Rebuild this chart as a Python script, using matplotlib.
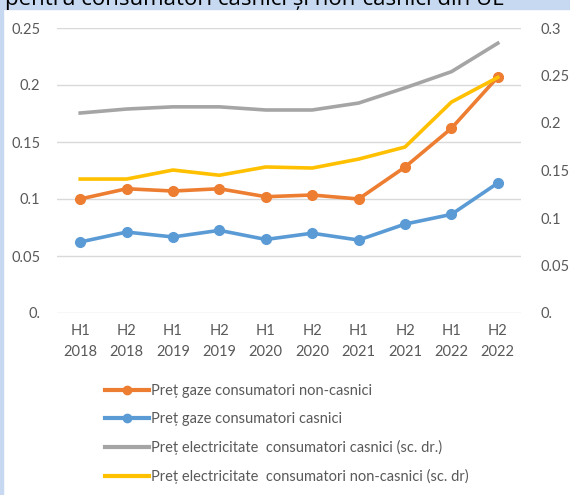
import matplotlib.pyplot as plt
from matplotlib.patches import Rectangle
from matplotlib.ticker import FuncFormatter

# data
periods = ["H1\n2018", "H2\n2018", "H1\n2019", "H2\n2019", "H1\n2020",
           "H2\n2020", "H1\n2021", "H2\n2021", "H1\n2022", "H2\n2022"]
gaz_non_casnici = [0.100, 0.109, 0.107, 0.109, 0.102, 0.1035, 0.100, 0.128, 0.162, 0.207]
gaz_casnici = [0.0623, 0.071, 0.0667, 0.0725, 0.0645, 0.070, 0.064, 0.078, 0.0865, 0.114]
el_casnici = [0.2105, 0.2147, 0.217, 0.217, 0.2137, 0.2137, 0.221, 0.237, 0.254, 0.284]
el_non_casnici = [0.141, 0.141, 0.1505, 0.145, 0.1537, 0.1526, 0.162, 0.1747, 0.222, 0.248]

labels = ["Preț gaze consumatori non-casnici",
          "Preț gaze consumatori casnici",
          "Preț electricitate  consumatori casnici (sc. dr.)",
          "Preț electricitate  consumatori non-casnici (sc. dr)"]

ORANGE = "#ed7d31"
BLUE = "#5b9bd5"
GREY = "#a5a5a5"
YELLOW = "#ffc000"
TXT = "#595959"

plt.rcParams['font.family'] = ['Lato', 'DejaVu Sans']

W, H = 570, 495
fig = plt.figure(figsize=(W / 100, H / 100), dpi=100)

# light blue frame of the slide behind the chart
fig.patches.append(Rectangle((0, 1 - 9 / H), 1, 9 / H, transform=fig.transFigure,
                             color="#c6d9f0", zorder=0))
fig.patches.append(Rectangle((0, 0), 2.5 / W, 1, transform=fig.transFigure,
                             color="#c6d9f0", zorder=0))
# slide title, only its lower part is visible in the crop
fig.text(5 / W, 1 - 5 / H, "pentru consumatori casnici și non-casnici din UE",
         fontsize=16, color="black", ha="left", va="baseline",
         family=['Open Sans', 'DejaVu Sans'])

ax = fig.add_axes([57 / W, 1 - 313 / H, (521 - 57) / W, (313 - 28) / H])
ax2 = ax.twinx()

x = list(range(len(periods)))
l1, = ax.plot(x, gaz_non_casnici, color=ORANGE, lw=2.6, marker="o", ms=7, zorder=3)
l2, = ax.plot(x, gaz_casnici, color=BLUE, lw=2.6, marker="o", ms=7, zorder=3)
l3, = ax2.plot(x, el_casnici, color=GREY, lw=2.6)
l4, = ax2.plot(x, el_non_casnici, color=YELLOW, lw=2.6)

ax.set_xlim(-0.5, len(periods) - 0.5)
ax.set_ylim(0, 0.25)
ax2.set_ylim(0, 0.3)
ax.set_yticks([0, 0.05, 0.1, 0.15, 0.2, 0.25])
ax2.set_yticks([0, 0.05, 0.1, 0.15, 0.2, 0.25, 0.3])

fmt = FuncFormatter(lambda v, p: "0." if v == 0 else f"{v:g}")
ax.yaxis.set_major_formatter(fmt)
ax2.yaxis.set_major_formatter(fmt)

ax.set_xticks(x)
ax.set_xticklabels(periods, linespacing=1.6)

ax.grid(axis="y", color="#d9d9d9", lw=1)
ax.set_axisbelow(True)
for a in (ax, ax2):
    for s in a.spines.values():
        s.set_visible(False)
    a.tick_params(length=0, colors=TXT, labelsize=10.5)
ax.tick_params(axis="y", pad=12)
ax2.tick_params(axis="y", pad=14)
ax.tick_params(axis="x", pad=8)

leg = fig.legend([l1, l2, l3, l4], labels, loc="upper left",
                 bbox_to_anchor=(92 / W, 1 - 371 / H), frameon=False,
                 fontsize=10.5, labelcolor=TXT, handlelength=3.0,
                 handletextpad=0.15, labelspacing=0.95)
for h in leg.legend_handles:
    h.set_linewidth(3)
    h.set_markersize(6)

fig.savefig("out.png", dpi=100)
